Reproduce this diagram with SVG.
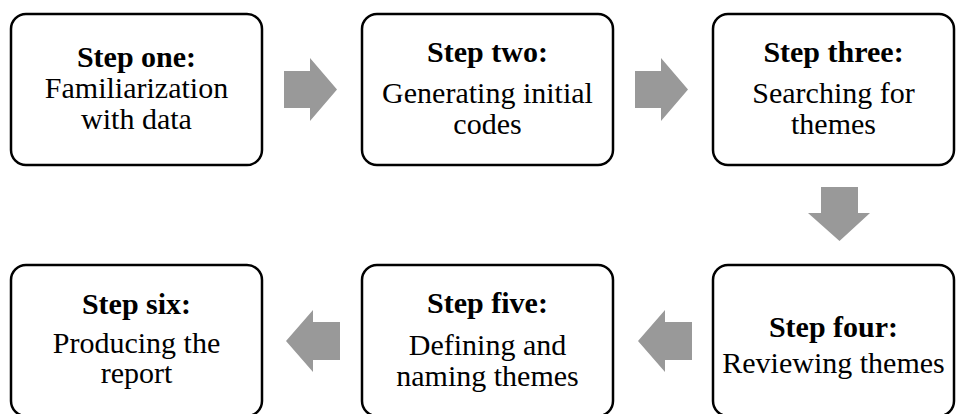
<svg xmlns="http://www.w3.org/2000/svg" width="956" height="414" viewBox="0 0 956 414">
  <style>
    .box { fill: #ffffff; stroke: #000000; stroke-width: 2.5; }
    .arrow { fill: #999999; stroke: none; }
    text { font-family: "Liberation Serif", "Times New Roman", serif; font-size: 30px; fill: #000000; text-anchor: middle; }
    .head { font-weight: bold; }
  </style>
  <rect width="956" height="414" fill="#ffffff"/>

  <g id="connectors">
    <polygon class="arrow" points="284,71 310,71 310,58 337,89.5 310,121 310,108 284,108"/>
    <polygon class="arrow" points="635,71 661,71 661,58 688,89.5 661,121 661,108 635,108"/>
    <polygon class="arrow" points="821,187 858,187 858,213 870,213 839.5,241 808,213 821,213"/>
    <polygon class="arrow" points="692,322 665,322 665,310 638,341 665,372 665,360 692,360"/>
    <polygon class="arrow" points="340,322 313,322 313,310 286,341 313,372 313,360 340,360"/>
  </g>

  <g id="step1">
    <rect class="box" x="11" y="14" width="251" height="151" rx="15" ry="15"/>
    <text class="head" x="136.5" y="67">Step one:</text>
    <text x="136.5" y="98">Familiarization</text>
    <text x="136.5" y="129">with data</text>
  </g>

  <g id="step2">
    <rect class="box" x="362" y="14" width="251" height="151" rx="15" ry="15"/>
    <text class="head" x="487.5" y="62">Step two:</text>
    <text x="487.5" y="103">Generating initial</text>
    <text x="487.5" y="134">codes</text>
  </g>

  <g id="step3">
    <rect class="box" x="713" y="14" width="241" height="151" rx="15" ry="15"/>
    <text class="head" x="833.5" y="62">Step three:</text>
    <text x="833.5" y="103">Searching for</text>
    <text x="833.5" y="134">themes</text>
  </g>

  <g id="step4">
    <rect class="box" x="713" y="265" width="241" height="151" rx="15" ry="15"/>
    <text class="head" x="833.5" y="337">Step four:</text>
    <text x="833.5" y="373">Reviewing themes</text>
  </g>

  <g id="step5">
    <rect class="box" x="362" y="265" width="251" height="151" rx="15" ry="15"/>
    <text class="head" x="487.5" y="313">Step five:</text>
    <text x="487.5" y="355">Defining and</text>
    <text x="487.5" y="386">naming themes</text>
  </g>

  <g id="step6">
    <rect class="box" x="11" y="265" width="251" height="151" rx="15" ry="15"/>
    <text class="head" x="136.5" y="314">Step six:</text>
    <text x="136.5" y="353">Producing the</text>
    <text x="136.5" y="383">report</text>
  </g>
</svg>
